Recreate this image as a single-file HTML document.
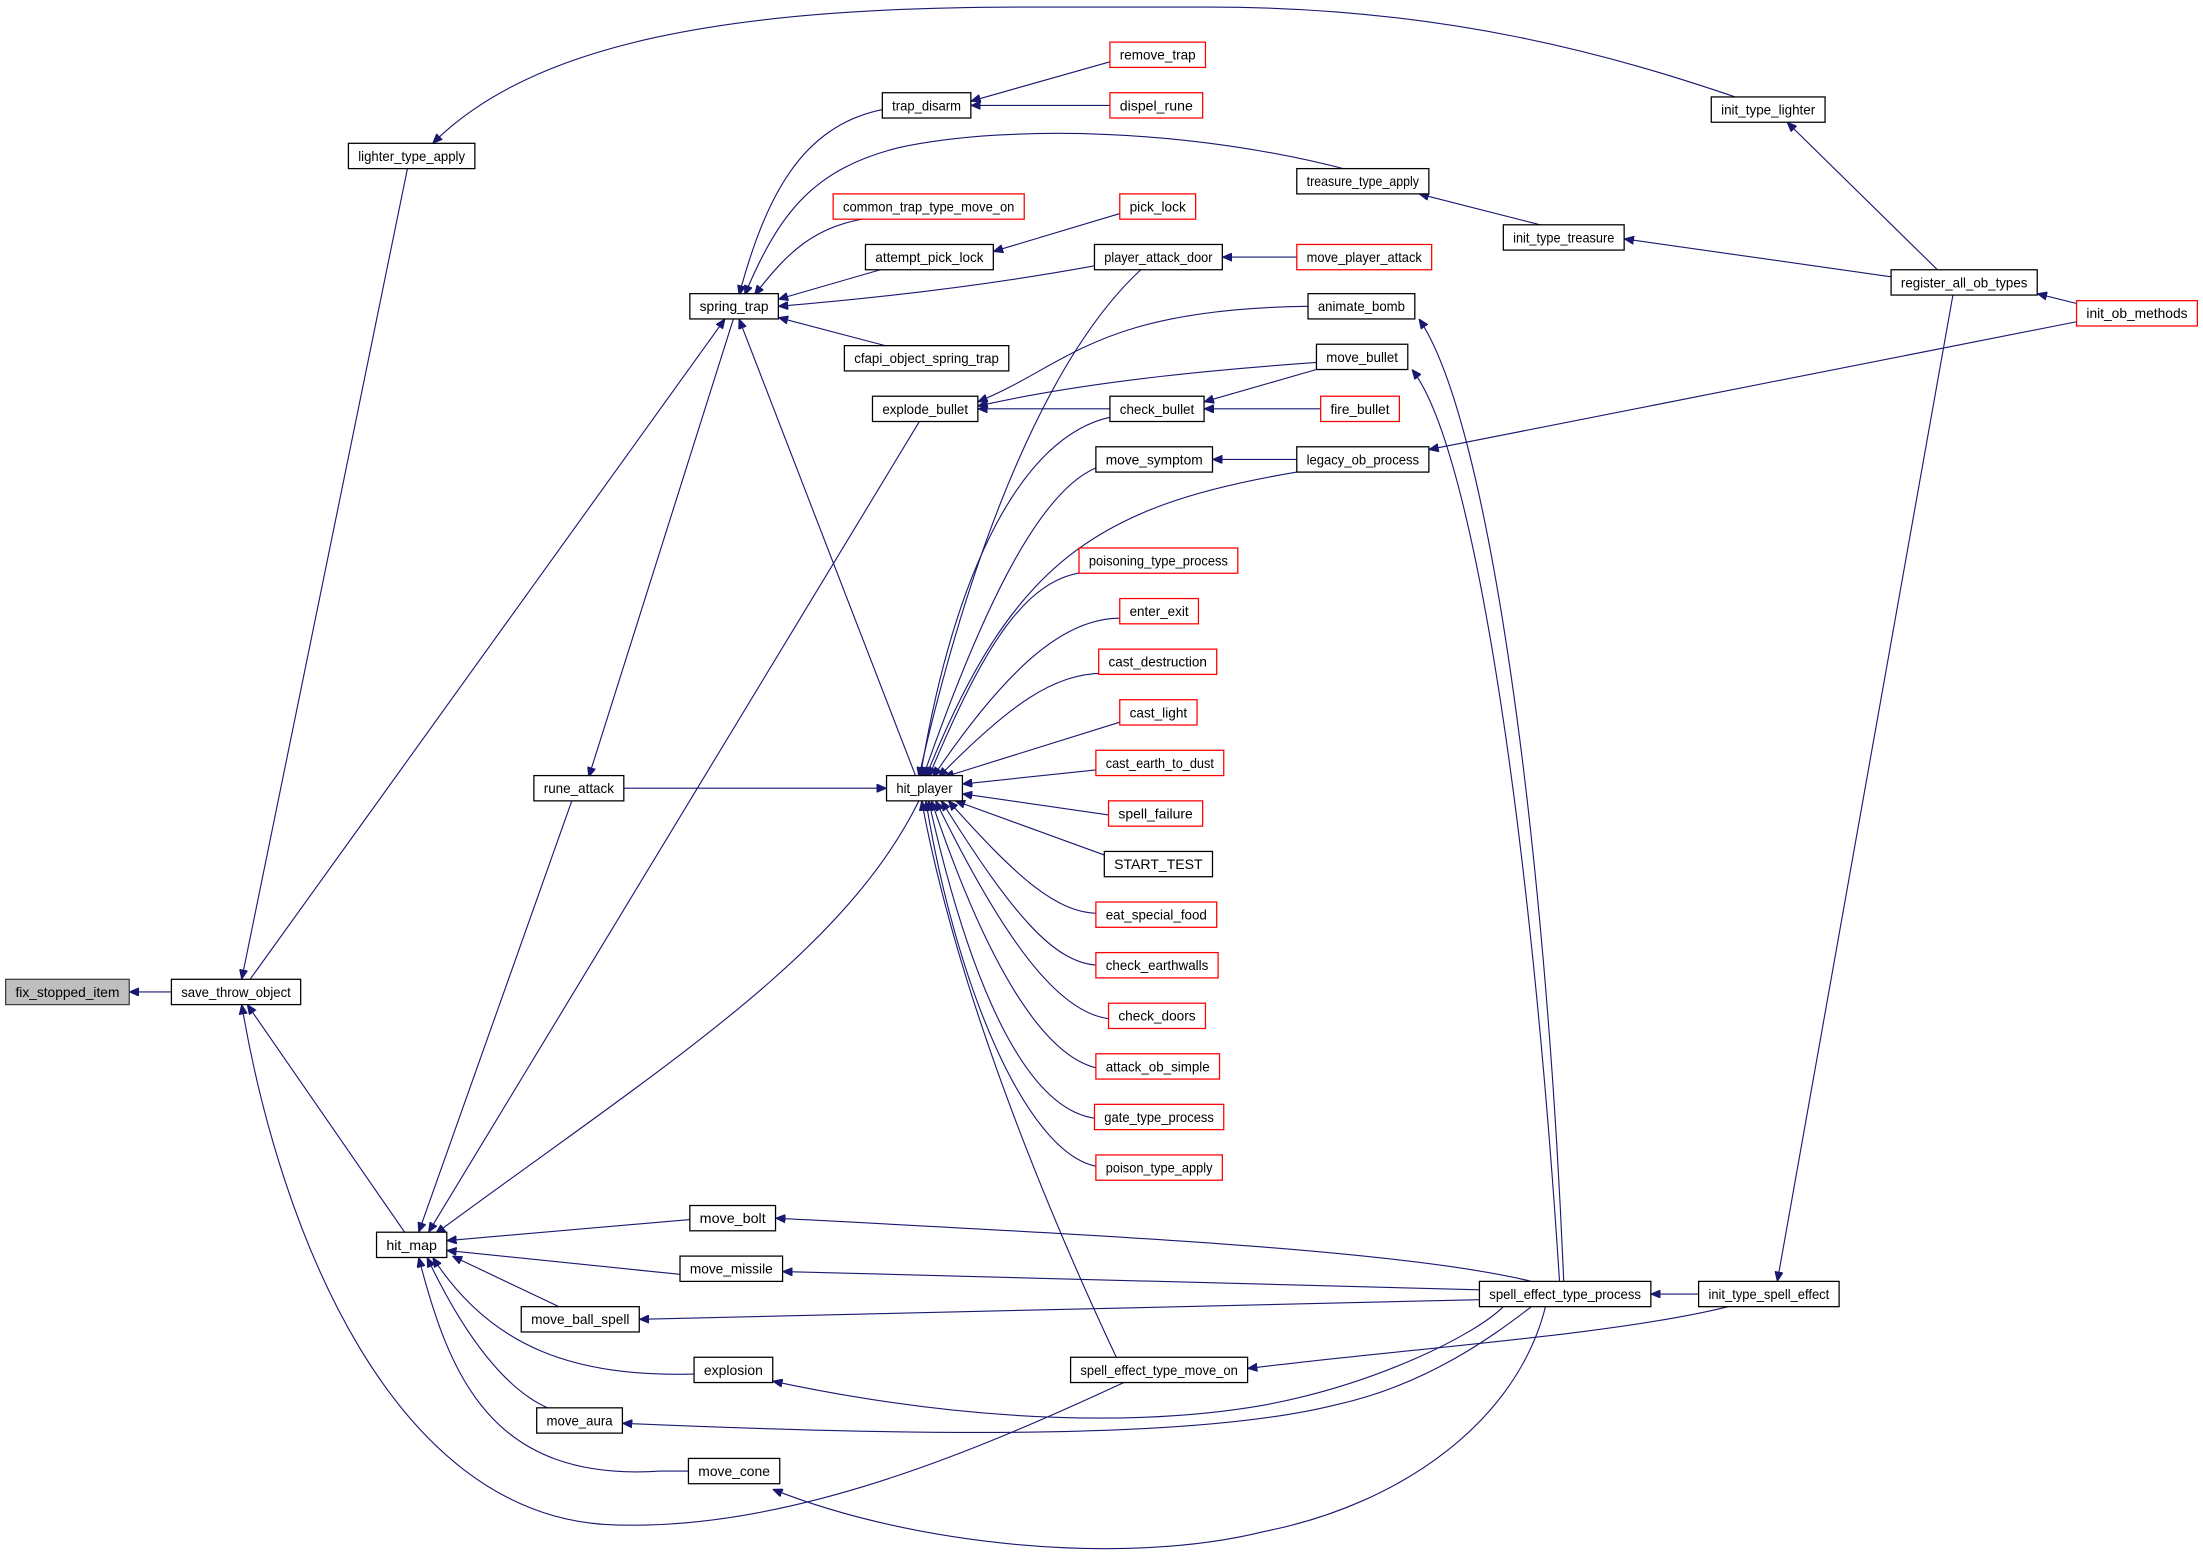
<!DOCTYPE html>
<html><head><meta charset="utf-8"><style>
html,body{margin:0;padding:0;background:#fff}
svg{display:block}
text{font-family:"Liberation Sans",sans-serif;font-size:10px;fill:#000}
.n rect{fill:#fff;stroke:#000;stroke-width:0.9}
.r rect{stroke:#ff0000}
.g rect{fill:#bfbfbf;stroke:#404040}
path.e{fill:none;stroke:#191970;stroke-width:0.8;marker-start:url(#a)}
</style></head><body>
<svg width="2203" height="1560" viewBox="0 0 1568 1110.3" preserveAspectRatio="none" xmlns="http://www.w3.org/2000/svg">
<defs><marker id="a" viewBox="0 0 10 10" refX="10" refY="5" markerUnits="userSpaceOnUse" markerWidth="7" markerHeight="6" orient="auto-start-reverse" preserveAspectRatio="none"><path d="M0,0 L10,5 L0,10 z" fill="#191970" stroke="#191970"/></marker></defs>

<!-- edges -->
<path class="e" d="M92,706 L122,706"/>
<path class="e" d="M172,697 L290,120"/>
<path class="e" d="M516,227 L178,697"/>
<path class="e" d="M176,715 L288,877"/>
<path class="e" d="M172,715 C200,880 280,1075 430,1085 C560,1092 700,1030 800,984"/>
<path class="e" d="M308,102 C380,30 520,5 730,5 L860,5 C1030,5 1150,40 1238,70"/>
<path class="e" d="M298,877 L407,570"/>
<path class="e" d="M419,553 L522,227"/>
<path class="e" d="M305,877 L655,299"/>
<path class="e" d="M310,878 C470,760 600,680 654,570"/>
<path class="e" d="M318,883 L491,868"/>
<path class="e" d="M318,890 L484,907"/>
<path class="e" d="M322,894 L400,931"/>
<path class="e" d="M308,895 C350,960 410,980 494,978"/>
<path class="e" d="M304,895 C330,950 360,990 392,1003"/>
<path class="e" d="M298,895 C320,980 350,1055 470,1047 L490,1047"/>
<path class="e" d="M631,561 L444,561"/>
<path class="e" d="M526,227 L652,553"/>
<path class="e" d="M526,210 C545,140 570,90 628,78"/>
<path class="e" d="M530,210 C555,150 580,120 640,105 C720,88 850,92 960,121"/>
<path class="e" d="M537,210 C560,180 580,160 620,155"/>
<path class="e" d="M554,213 L630,191"/>
<path class="e" d="M554,218 C650,210 720,200 780,189"/>
<path class="e" d="M554,226 L630,246"/>
<path class="e" d="M691,72 L790,44"/>
<path class="e" d="M691,75 L790,75"/>
<path class="e" d="M707,179 L797,152"/>
<path class="e" d="M870,183 L923,183"/>
<path class="e" d="M696,286 C760,260 780,220 931,218"/>
<path class="e" d="M696,289 C780,270 880,262 937,258"/>
<path class="e" d="M696,291 L790,291"/>
<path class="e" d="M857,286 L937,263"/>
<path class="e" d="M857,291 L940,291"/>
<path class="e" d="M863,327 L923,327"/>
<path class="e" d="M1017,320 L1478,229"/>
<path class="e" d="M1010,138 L1100,161"/>
<path class="e" d="M1156,170 L1346,197"/>
<path class="e" d="M1272,87 L1380,193"/>
<path class="e" d="M1450,209 L1478,216"/>
<path class="e" d="M1265,912 L1390,210"/>
<path class="e" d="M1175,921 L1209,921"/>
<path class="e" d="M888,974 C1000,960 1150,950 1230,930"/>
<path class="e" d="M1010,227 C1060,300 1100,600 1113,912"/>
<path class="e" d="M1005,263 C1050,320 1090,600 1110,912"/>
<path class="e" d="M552,867 C800,880 1000,890 1090,912"/>
<path class="e" d="M557,905 L1053,918"/>
<path class="e" d="M455,939 L1053,925"/>
<path class="e" d="M550,983 C700,1015 820,1014 900,1000 C980,985 1050,950 1070,930"/>
<path class="e" d="M443,1013 C650,1022 850,1025 950,1000 C1020,985 1070,945 1090,930"/>
<path class="e" d="M550,1060 C650,1100 800,1115 900,1090 C1000,1070 1080,1010 1100,930"/>
<path class="e" d="M656,570 C680,700 740,850 795,967"/>
<path class="e" d="M654,553 C700,350 760,240 812,192"/>
<path class="e" d="M655,553 C680,400 730,310 790,297"/>
<path class="e" d="M657,553 C700,430 740,350 780,333"/>
<path class="e" d="M659,553 C720,400 780,360 923,336"/>
<path class="e" d="M661,553 C700,460 730,410 775,407"/>
<path class="e" d="M664,553 C720,470 760,440 797,440"/>
<path class="e" d="M668,553 C720,500 750,480 785,479"/>
<path class="e" d="M672,553 L797,514"/>
<path class="e" d="M685,558 L780,548"/>
<path class="e" d="M685,565 L789,580"/>
<path class="e" d="M680,570 L790,610"/>
<path class="e" d="M675,570 C720,620 750,650 782,650"/>
<path class="e" d="M670,570 C720,650 750,686 782,687"/>
<path class="e" d="M666,570 C710,660 750,720 789,725"/>
<path class="e" d="M663,570 C700,680 740,750 780,760"/>
<path class="e" d="M661,570 C690,700 730,790 780,796"/>
<path class="e" d="M659,570 C680,700 730,820 780,830"/>

<!-- nodes -->
<g class="n g"><rect x="4" y="697" width="88" height="18"/><text x="48" y="709.5" text-anchor="middle" textLength="74" lengthAdjust="spacingAndGlyphs">fix_stopped_item</text></g>
<g class="n"><rect x="122" y="697" width="92" height="18"/><text x="168" y="709.5" text-anchor="middle" textLength="78" lengthAdjust="spacingAndGlyphs">save_throw_object</text></g>
<g class="n"><rect x="248" y="102" width="90" height="18"/><text x="293" y="114.5" text-anchor="middle" textLength="76" lengthAdjust="spacingAndGlyphs">lighter_type_apply</text></g>
<g class="n"><rect x="268" y="877" width="50" height="18"/><text x="293" y="889.5" text-anchor="middle" textLength="36" lengthAdjust="spacingAndGlyphs">hit_map</text></g>
<g class="n"><rect x="380" y="552" width="64" height="18"/><text x="412" y="564.5" text-anchor="middle" textLength="50" lengthAdjust="spacingAndGlyphs">rune_attack</text></g>
<g class="n"><rect x="491" y="209" width="63" height="18"/><text x="522.5" y="221.5" text-anchor="middle" textLength="49" lengthAdjust="spacingAndGlyphs">spring_trap</text></g>
<g class="n"><rect x="628" y="66" width="63" height="18"/><text x="659.5" y="78.5" text-anchor="middle" textLength="49" lengthAdjust="spacingAndGlyphs">trap_disarm</text></g>
<g class="n r"><rect x="790" y="30" width="68" height="18"/><text x="824" y="42.5" text-anchor="middle" textLength="54" lengthAdjust="spacingAndGlyphs">remove_trap</text></g>
<g class="n r"><rect x="790" y="66" width="66" height="18"/><text x="823" y="78.5" text-anchor="middle" textLength="52" lengthAdjust="spacingAndGlyphs">dispel_rune</text></g>
<g class="n"><rect x="923" y="120" width="94" height="18"/><text x="970" y="132.5" text-anchor="middle" textLength="80" lengthAdjust="spacingAndGlyphs">treasure_type_apply</text></g>
<g class="n r"><rect x="593" y="138" width="136" height="18"/><text x="661" y="150.5" text-anchor="middle" textLength="122" lengthAdjust="spacingAndGlyphs">common_trap_type_move_on</text></g>
<g class="n r"><rect x="797" y="138" width="54" height="18"/><text x="824" y="150.5" text-anchor="middle" textLength="40" lengthAdjust="spacingAndGlyphs">pick_lock</text></g>
<g class="n"><rect x="616" y="174" width="91" height="18"/><text x="661.5" y="186.5" text-anchor="middle" textLength="77" lengthAdjust="spacingAndGlyphs">attempt_pick_lock</text></g>
<g class="n"><rect x="779" y="174" width="91" height="18"/><text x="824.5" y="186.5" text-anchor="middle" textLength="77" lengthAdjust="spacingAndGlyphs">player_attack_door</text></g>
<g class="n r"><rect x="923" y="174" width="96" height="18"/><text x="971" y="186.5" text-anchor="middle" textLength="82" lengthAdjust="spacingAndGlyphs">move_player_attack</text></g>
<g class="n"><rect x="601" y="246" width="117" height="18"/><text x="659.5" y="258.5" text-anchor="middle" textLength="103" lengthAdjust="spacingAndGlyphs">cfapi_object_spring_trap</text></g>
<g class="n"><rect x="621" y="282" width="75" height="18"/><text x="658.5" y="294.5" text-anchor="middle" textLength="61" lengthAdjust="spacingAndGlyphs">explode_bullet</text></g>
<g class="n"><rect x="931" y="209" width="76" height="18"/><text x="969" y="221.5" text-anchor="middle" textLength="62" lengthAdjust="spacingAndGlyphs">animate_bomb</text></g>
<g class="n"><rect x="937" y="245" width="65" height="18"/><text x="969.5" y="257.5" text-anchor="middle" textLength="51" lengthAdjust="spacingAndGlyphs">move_bullet</text></g>
<g class="n"><rect x="790" y="282" width="67" height="18"/><text x="823.5" y="294.5" text-anchor="middle" textLength="53" lengthAdjust="spacingAndGlyphs">check_bullet</text></g>
<g class="n r"><rect x="940" y="282" width="56" height="18"/><text x="968" y="294.5" text-anchor="middle" textLength="42" lengthAdjust="spacingAndGlyphs">fire_bullet</text></g>
<g class="n"><rect x="780" y="318" width="83" height="18"/><text x="821.5" y="330.5" text-anchor="middle" textLength="69" lengthAdjust="spacingAndGlyphs">move_symptom</text></g>
<g class="n"><rect x="923" y="318" width="94" height="18"/><text x="970" y="330.5" text-anchor="middle" textLength="80" lengthAdjust="spacingAndGlyphs">legacy_ob_process</text></g>
<g class="n r"><rect x="768" y="390" width="113" height="18"/><text x="824.5" y="402.5" text-anchor="middle" textLength="99" lengthAdjust="spacingAndGlyphs">poisoning_type_process</text></g>
<g class="n r"><rect x="797" y="426" width="56" height="18"/><text x="825" y="438.5" text-anchor="middle" textLength="42" lengthAdjust="spacingAndGlyphs">enter_exit</text></g>
<g class="n r"><rect x="782" y="462" width="84" height="18"/><text x="824" y="474.5" text-anchor="middle" textLength="70" lengthAdjust="spacingAndGlyphs">cast_destruction</text></g>
<g class="n r"><rect x="797" y="498" width="55" height="18"/><text x="824.5" y="510.5" text-anchor="middle" textLength="41" lengthAdjust="spacingAndGlyphs">cast_light</text></g>
<g class="n r"><rect x="780" y="534" width="91" height="18"/><text x="825.5" y="546.5" text-anchor="middle" textLength="77" lengthAdjust="spacingAndGlyphs">cast_earth_to_dust</text></g>
<g class="n"><rect x="631" y="552" width="54" height="18"/><text x="658" y="564.5" text-anchor="middle" textLength="40" lengthAdjust="spacingAndGlyphs">hit_player</text></g>
<g class="n r"><rect x="789" y="570" width="67" height="18"/><text x="822.5" y="582.5" text-anchor="middle" textLength="53" lengthAdjust="spacingAndGlyphs">spell_failure</text></g>
<g class="n"><rect x="786" y="606" width="77" height="18"/><text x="824.5" y="618.5" text-anchor="middle" textLength="63" lengthAdjust="spacingAndGlyphs">START_TEST</text></g>
<g class="n r"><rect x="780" y="642" width="86" height="18"/><text x="823" y="654.5" text-anchor="middle" textLength="72" lengthAdjust="spacingAndGlyphs">eat_special_food</text></g>
<g class="n r"><rect x="780" y="678" width="87" height="18"/><text x="823.5" y="690.5" text-anchor="middle" textLength="73" lengthAdjust="spacingAndGlyphs">check_earthwalls</text></g>
<g class="n r"><rect x="789" y="714" width="69" height="18"/><text x="823.5" y="726.5" text-anchor="middle" textLength="55" lengthAdjust="spacingAndGlyphs">check_doors</text></g>
<g class="n r"><rect x="780" y="750" width="88" height="18"/><text x="824" y="762.5" text-anchor="middle" textLength="74" lengthAdjust="spacingAndGlyphs">attack_ob_simple</text></g>
<g class="n r"><rect x="779" y="786" width="92" height="18"/><text x="825" y="798.5" text-anchor="middle" textLength="78" lengthAdjust="spacingAndGlyphs">gate_type_process</text></g>
<g class="n r"><rect x="780" y="822" width="90" height="18"/><text x="825" y="834.5" text-anchor="middle" textLength="76" lengthAdjust="spacingAndGlyphs">poison_type_apply</text></g>
<g class="n"><rect x="491" y="858" width="61" height="18"/><text x="521.5" y="870.5" text-anchor="middle" textLength="47" lengthAdjust="spacingAndGlyphs">move_bolt</text></g>
<g class="n"><rect x="484" y="894" width="73" height="18"/><text x="520.5" y="906.5" text-anchor="middle" textLength="59" lengthAdjust="spacingAndGlyphs">move_missile</text></g>
<g class="n"><rect x="371" y="930" width="84" height="18"/><text x="413" y="942.5" text-anchor="middle" textLength="70" lengthAdjust="spacingAndGlyphs">move_ball_spell</text></g>
<g class="n"><rect x="494" y="966" width="56" height="18"/><text x="522" y="978.5" text-anchor="middle" textLength="42" lengthAdjust="spacingAndGlyphs">explosion</text></g>
<g class="n"><rect x="382" y="1002" width="61" height="18"/><text x="412.5" y="1014.5" text-anchor="middle" textLength="47" lengthAdjust="spacingAndGlyphs">move_aura</text></g>
<g class="n"><rect x="490" y="1038" width="65" height="18"/><text x="522.5" y="1050.5" text-anchor="middle" textLength="51" lengthAdjust="spacingAndGlyphs">move_cone</text></g>
<g class="n"><rect x="762" y="966" width="126" height="18"/><text x="825" y="978.5" text-anchor="middle" textLength="112" lengthAdjust="spacingAndGlyphs">spell_effect_type_move_on</text></g>
<g class="n"><rect x="1053" y="912" width="122" height="18"/><text x="1114" y="924.5" text-anchor="middle" textLength="108" lengthAdjust="spacingAndGlyphs">spell_effect_type_process</text></g>
<g class="n"><rect x="1209" y="912" width="100" height="18"/><text x="1259" y="924.5" text-anchor="middle" textLength="86" lengthAdjust="spacingAndGlyphs">init_type_spell_effect</text></g>
<g class="n"><rect x="1218" y="69" width="81" height="18"/><text x="1258.5" y="81.5" text-anchor="middle" textLength="67" lengthAdjust="spacingAndGlyphs">init_type_lighter</text></g>
<g class="n"><rect x="1070" y="160" width="86" height="18"/><text x="1113" y="172.5" text-anchor="middle" textLength="72" lengthAdjust="spacingAndGlyphs">init_type_treasure</text></g>
<g class="n"><rect x="1346" y="192" width="104" height="18"/><text x="1398" y="204.5" text-anchor="middle" textLength="90" lengthAdjust="spacingAndGlyphs">register_all_ob_types</text></g>
<g class="n r"><rect x="1478" y="214" width="86" height="18"/><text x="1521" y="226.5" text-anchor="middle" textLength="72" lengthAdjust="spacingAndGlyphs">init_ob_methods</text></g>
</svg>
</body></html>
